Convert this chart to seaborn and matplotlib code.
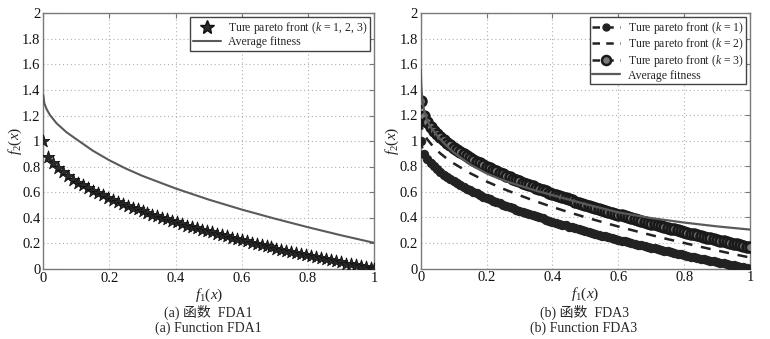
import matplotlib
matplotlib.use("Agg")
import matplotlib.pyplot as plt
import seaborn as sns
from matplotlib.lines import Line2D

# ---------------- data ----------------
# f1 sample positions used by the FDA3 fronts
f1_grid = [0.00, 0.01, 0.02, 0.03, 0.04, 0.05, 0.06, 0.07, 0.08, 0.09,
           0.10, 0.11, 0.12, 0.13, 0.14, 0.15, 0.16, 0.17, 0.18, 0.19,
           0.20, 0.21, 0.22, 0.23, 0.24, 0.25, 0.26, 0.27, 0.28, 0.29,
           0.30, 0.31, 0.32, 0.33, 0.34, 0.35, 0.36, 0.37, 0.38, 0.39,
           0.40, 0.41, 0.42, 0.43, 0.44, 0.45, 0.46, 0.47, 0.48, 0.49,
           0.50, 0.51, 0.52, 0.53, 0.54, 0.55, 0.56, 0.57, 0.58, 0.59,
           0.60, 0.61, 0.62, 0.63, 0.64, 0.65, 0.66, 0.67, 0.68, 0.69,
           0.70, 0.71, 0.72, 0.73, 0.74, 0.75, 0.76, 0.77, 0.78, 0.79,
           0.80, 0.81, 0.82, 0.83, 0.84, 0.85, 0.86, 0.87, 0.88, 0.89,
           0.90, 0.91, 0.92, 0.93, 0.94, 0.95, 0.96, 0.97, 0.98, 0.99, 1.00]

# FDA3 true front, k = 1
front_k1 = [1.000, 0.900, 0.859, 0.827, 0.800, 0.776, 0.755, 0.735, 0.717, 0.700,
            0.684, 0.668, 0.654, 0.639, 0.626, 0.613, 0.600, 0.588, 0.576, 0.564,
            0.553, 0.542, 0.531, 0.520, 0.510, 0.500, 0.490, 0.480, 0.471, 0.461,
            0.452, 0.443, 0.434, 0.426, 0.417, 0.408, 0.400, 0.392, 0.384, 0.376,
            0.368, 0.360, 0.352, 0.344, 0.337, 0.329, 0.322, 0.314, 0.307, 0.300,
            0.293, 0.286, 0.279, 0.272, 0.265, 0.258, 0.252, 0.245, 0.238, 0.232,
            0.225, 0.219, 0.213, 0.206, 0.200, 0.194, 0.188, 0.181, 0.175, 0.169,
            0.163, 0.157, 0.151, 0.146, 0.140, 0.134, 0.128, 0.122, 0.117, 0.111,
            0.106, 0.100, 0.094, 0.089, 0.083, 0.078, 0.073, 0.067, 0.062, 0.057,
            0.051, 0.046, 0.041, 0.036, 0.030, 0.025, 0.020, 0.015, 0.010, 0.005, 0.000]

# FDA3 true front, k = 3
front_k3 = [1.310, 1.196, 1.148, 1.112, 1.081, 1.054, 1.030, 1.007, 0.986, 0.967,
            0.948, 0.930, 0.914, 0.897, 0.882, 0.867, 0.852, 0.838, 0.824, 0.811,
            0.798, 0.785, 0.773, 0.761, 0.749, 0.738, 0.726, 0.715, 0.704, 0.694,
            0.683, 0.673, 0.663, 0.652, 0.643, 0.633, 0.623, 0.614, 0.604, 0.595,
            0.586, 0.577, 0.568, 0.560, 0.551, 0.542, 0.534, 0.525, 0.517, 0.509,
            0.501, 0.493, 0.485, 0.477, 0.469, 0.461, 0.454, 0.446, 0.438, 0.431,
            0.423, 0.416, 0.409, 0.402, 0.394, 0.387, 0.380, 0.373, 0.366, 0.359,
            0.352, 0.346, 0.339, 0.332, 0.325, 0.319, 0.312, 0.306, 0.299, 0.293,
            0.286, 0.280, 0.274, 0.267, 0.261, 0.255, 0.249, 0.242, 0.236, 0.230,
            0.224, 0.218, 0.212, 0.206, 0.200, 0.194, 0.189, 0.183, 0.177, 0.171, 0.165]

# FDA3 true front, k = 2 (dashed line)
k2_f1 = [0.000, 0.005, 0.01, 0.02, 0.04, 0.06, 0.08, 0.10, 0.15, 0.20, 0.25, 0.30, 0.35,
         0.40, 0.45, 0.50, 0.55, 0.60, 0.65, 0.70, 0.75, 0.80, 0.85, 0.90, 0.95, 1.00]
k2_f2 = [1.165, 1.089, 1.057, 1.012, 0.949, 0.901, 0.860, 0.824, 0.747, 0.682, 0.625, 0.574, 0.526,
         0.482, 0.441, 0.402, 0.365, 0.329, 0.295, 0.262, 0.230, 0.200, 0.170, 0.141, 0.113, 0.086]

# FDA1 true front (identical for k = 1, 2, 3)
star_f1 = [0.000, 0.015, 0.030, 0.045, 0.060, 0.075, 0.090, 0.105, 0.120, 0.135,
           0.150, 0.165, 0.180, 0.195, 0.210, 0.225, 0.240, 0.255, 0.270, 0.285,
           0.300, 0.315, 0.330, 0.345, 0.360, 0.375, 0.390, 0.405, 0.420, 0.435,
           0.450, 0.465, 0.480, 0.495, 0.510, 0.525, 0.540, 0.555, 0.570, 0.585,
           0.600, 0.615, 0.630, 0.645, 0.660, 0.675, 0.690, 0.705, 0.720, 0.735,
           0.750, 0.765, 0.780, 0.795, 0.810, 0.825, 0.840, 0.855, 0.870, 0.885,
           0.900, 0.915, 0.930, 0.945, 0.960, 0.975, 0.990, 1.000]
star_f2 = [1.000, 0.878, 0.827, 0.788, 0.755, 0.726, 0.700, 0.676, 0.654, 0.633,
           0.613, 0.594, 0.576, 0.558, 0.542, 0.526, 0.510, 0.495, 0.480, 0.466,
           0.452, 0.439, 0.426, 0.413, 0.400, 0.388, 0.376, 0.364, 0.352, 0.340,
           0.329, 0.318, 0.307, 0.296, 0.286, 0.275, 0.265, 0.255, 0.245, 0.235,
           0.225, 0.216, 0.206, 0.197, 0.188, 0.178, 0.169, 0.160, 0.151, 0.143,
           0.134, 0.125, 0.117, 0.108, 0.100, 0.092, 0.083, 0.075, 0.067, 0.059,
           0.051, 0.043, 0.036, 0.028, 0.020, 0.013, 0.005, 0.000]

# average fitness curves
avg_a_f1 = [0.000, 0.003, 0.010, 0.020, 0.040, 0.070, 0.100, 0.150, 0.200, 0.250,
            0.300, 0.400, 0.500, 0.600, 0.700, 0.800, 0.900, 1.000]
avg_a_f2 = [1.360, 1.297, 1.250, 1.205, 1.140, 1.070, 1.015, 0.925, 0.850, 0.785,
            0.728, 0.630, 0.543, 0.465, 0.394, 0.327, 0.264, 0.205]
avg_b_f1 = [0.000, 0.002, 0.005, 0.010, 0.020, 0.030, 0.050, 0.075, 0.100, 0.150,
            0.200, 0.250, 0.300, 0.350, 0.400, 0.500, 0.600, 0.700, 0.800, 0.900, 1.000]
avg_b_f2 = [1.560, 1.420, 1.320, 1.240, 1.160, 1.110, 1.040, 0.970, 0.910, 0.815,
            0.745, 0.692, 0.650, 0.610, 0.575, 0.505, 0.440, 0.395, 0.360, 0.330, 0.305]

x_ticks = [0, 0.2, 0.4, 0.6, 0.8, 1]
x_labels = ["0", "0.2", "0.4", "0.6", "0.8", "1"]
y_ticks = [0, 0.2, 0.4, 0.6, 0.8, 1, 1.2, 1.4, 1.6, 1.8, 2]
y_labels = ["0", "0.2", "0.4", "0.6", "0.8", "1", "1.2", "1.4", "1.6", "1.8", "2"]

captions_a = ["(a) 函数  FDA1", "(a) Function FDA1"]
captions_b = ["(b) 函数  FDA3", "(b) Function FDA3"]

# ---------------- style ----------------
sns.set_style("white")
plt.rcParams["font.family"] = ["Liberation Serif", "Noto Sans CJK SC", "DejaVu Sans"]
plt.rcParams["mathtext.fontset"] = "custom"
plt.rcParams["mathtext.rm"] = "Liberation Serif"
plt.rcParams["mathtext.it"] = "Liberation Serif:italic"

fig = plt.figure(figsize=(7.70, 3.39), dpi=100)
ax_a = fig.add_axes([43.3 / 770, 1 - 269 / 339, (374 - 43.3) / 770, (269 - 13.3) / 339])
ax_b = fig.add_axes([420.7 / 770, 1 - 268.5 / 339, (750 - 420.7) / 770, (268.5 - 13.3) / 339])

AVG_COLOR = "#5a5a5a"
FRONT_COLOR = "#222222"
LEG_FS = 8.5


def style_axes(ax):
    ax.set_xlim(0, 1)
    ax.set_ylim(0, 2)
    ax.set_xticks(x_ticks)
    ax.set_xticklabels(x_labels)
    ax.set_yticks(y_ticks)
    ax.set_yticklabels(y_labels)
    ax.tick_params(direction="in", length=3.5, width=0.8, top=True, right=True,
                   labelsize=10.5, colors="#777777", labelcolor="#111111", pad=2)
    ax.grid(True, linestyle=(0, (1, 2.5)), color="#b0b0b0", linewidth=0.8)
    for sp in ax.spines.values():
        sp.set_color("#7a7a7a")
        sp.set_linewidth(1.0)
    ax.set_xlabel(r"$f_1(x)$", fontsize=11, labelpad=1)
    ax.set_ylabel(r"$f_2(x)$", fontsize=11, labelpad=-1)


# ---------------- panel (a): FDA1 ----------------
sns.lineplot(x=avg_a_f1, y=avg_a_f2, ax=ax_a, color=AVG_COLOR, linewidth=1.5, zorder=3)
sns.scatterplot(x=star_f1, y=star_f2, ax=ax_a, marker="*", s=90, color="#2a2a2a",
                edgecolor="#111111", linewidth=0.6, zorder=4)
style_axes(ax_a)
h_a = [Line2D([], [], linestyle="", marker="*", markersize=10, color="#2a2a2a",
              markeredgecolor="#111111"),
       Line2D([], [], color=AVG_COLOR, linewidth=1.5)]
ax_a.legend(h_a, ["Ture pareto front ($k$ = 1, 2, 3)", "Average fitness"],
            loc="upper right", borderaxespad=0.35, frameon=True, fancybox=False,
            edgecolor="#444444", framealpha=1, handlelength=2.4, handletextpad=0.6,
            borderpad=0.2, labelspacing=0.05, fontsize=LEG_FS)

# ---------------- panel (b): FDA3 ----------------
sns.lineplot(x=f1_grid, y=front_k1, ax=ax_b, color=FRONT_COLOR, linewidth=1.5,
             linestyle="--", marker="o", markersize=6, markerfacecolor=FRONT_COLOR,
             markeredgecolor=FRONT_COLOR, zorder=3)
sns.lineplot(x=k2_f1, y=k2_f2, ax=ax_b, color=FRONT_COLOR, linewidth=1.8,
             dashes=(4, 3.5), zorder=3)
sns.lineplot(x=f1_grid, y=front_k3, ax=ax_b, color=FRONT_COLOR, linewidth=1.5,
             linestyle="--", marker="o", markersize=7, markerfacecolor="#7a7a7a",
             markeredgecolor="#1a1a1a", markeredgewidth=2.0, zorder=3)
sns.lineplot(x=avg_b_f1, y=avg_b_f2, ax=ax_b, color=AVG_COLOR, linewidth=1.6, zorder=4)
style_axes(ax_b)
h_b = [Line2D([], [], color=FRONT_COLOR, linewidth=1.8, dashes=(3, 2.5), marker="o",
              markersize=5, markerfacecolor=FRONT_COLOR),
       Line2D([], [], color=FRONT_COLOR, linewidth=1.8, dashes=(3, 2.5)),
       Line2D([], [], color=FRONT_COLOR, linewidth=1.8, dashes=(3, 2.5), marker="o",
              markersize=6.5, markerfacecolor="#7a7a7a", markeredgecolor="#1a1a1a",
              markeredgewidth=1.8),
       Line2D([], [], color=AVG_COLOR, linewidth=1.6)]
ax_b.legend(h_b, ["Ture pareto front ($k$ = 1)", "Ture pareto front ($k$ = 2)",
                  "Ture pareto front ($k$ = 3)", "Average fitness"],
            loc="upper right", borderaxespad=0.35, frameon=True, fancybox=False,
            edgecolor="#444444", framealpha=1, handlelength=2.4, handletextpad=0.6,
            borderpad=0.2, labelspacing=0.05, fontsize=LEG_FS)

# ---------------- captions ----------------
for cx, caps in ((208, captions_a), (584, captions_b)):
    fig.text(cx / 770, 1 - 312 / 339, caps[0], ha="center", va="center", fontsize=10)
    fig.text(cx / 770, 1 - 328 / 339, caps[1], ha="center", va="center", fontsize=10)

fig.savefig("out.png", dpi=100, facecolor="white")
